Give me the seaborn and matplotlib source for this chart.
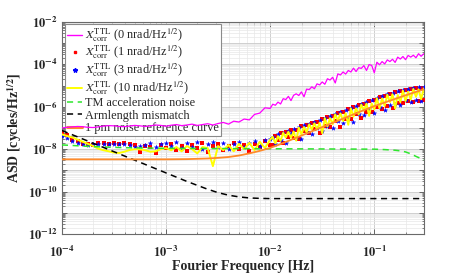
import numpy as np
import matplotlib
matplotlib.use('Agg')
import matplotlib.pyplot as plt
import seaborn as sns
from matplotlib.ticker import LogLocator, FuncFormatter, NullFormatter
from matplotlib.lines import Line2D

sns.set_style('ticks')
plt.rcParams['font.family'] = ['Liberation Serif', 'DejaVu Serif']
plt.rcParams['mathtext.fontset'] = 'stix'

# ---------------- data (log10 values) ----------------
freq_exp = [-4.00, -3.95, -3.90, -3.85, -3.80, -3.75, -3.70, -3.65, -3.60, -3.55,
            -3.50, -3.45, -3.40, -3.35, -3.30, -3.25, -3.20, -3.15, -3.10, -3.05,
            -3.00, -2.95, -2.90, -2.85, -2.80, -2.75, -2.70, -2.65, -2.60, -2.55,
            -2.50, -2.45, -2.40, -2.35, -2.30, -2.25, -2.20, -2.15, -2.10, -2.05,
            -2.00,
            -1.975, -1.950, -1.925, -1.900, -1.875, -1.850, -1.825, -1.800, -1.775, -1.750,
            -1.725, -1.700, -1.675, -1.650, -1.625, -1.600, -1.575, -1.550, -1.525, -1.500,
            -1.475, -1.450, -1.425, -1.400, -1.375, -1.350, -1.325, -1.300, -1.275, -1.250,
            -1.225, -1.200, -1.175, -1.150, -1.125, -1.100, -1.075, -1.050, -1.025, -1.000,
            -0.975, -0.950, -0.925, -0.900, -0.875, -0.850, -0.825, -0.800, -0.775, -0.750,
            -0.725, -0.700, -0.675, -0.650, -0.625, -0.600, -0.575, -0.550, -0.525]

ttl0_exp = [-7.00, -6.97, -6.95, -6.93, -6.94, -6.97, -6.98, -6.95, -6.91, -6.89,
            -6.90, -6.93, -6.94, -6.91, -6.88, -6.90, -6.93, -6.90, -6.86, -6.88,
            -6.92, -6.87, -6.84, -6.89, -6.86, -6.82, -6.88, -6.84, -6.80, -6.86,
            -6.79, -6.74, -6.82, -6.68, -6.72, -6.58, -6.62, -6.36, -6.30, -6.05,
            -6.08,
            -5.88, -5.93, -5.78, -5.87, -5.62, -5.66, -5.51, -5.71, -5.46, -5.39,
            -5.47, -5.30, -5.53, -5.17, -5.19, -5.06, -5.15, -4.92, -4.97, -4.83,
            -4.94, -4.68, -4.74, -4.61, -4.88, -4.45, -4.50, -4.36, -4.46, -4.29,
            -4.36, -4.18, -4.34, -4.16, -4.19, -4.06, -4.29, -4.01, -4.05, -4.40,
            -3.90, -4.02, -3.87, -3.98, -3.79, -3.87, -3.76, -3.91, -3.66, -3.75,
            -3.63, -3.78, -3.58, -3.66, -3.57, -3.69, -3.50, -3.62, -3.50]

ttl1_exp = [-7.25, -7.33, -7.55, -7.62, -7.78, -7.75, -7.80, -7.72, -7.70, -7.74,
            -7.70, -7.76, -7.72, -7.75, -7.80, -8.13, -7.85, -7.92, -8.18, -7.80,
            -7.95, -7.75, -8.05, -7.85, -8.10, -7.80, -7.95, -7.70, -8.15, -7.85,
            -7.75, -8.05, -7.85, -7.70, -8.00, -7.80, -8.10, -7.75, -7.90, -7.60,
            -7.80,
            -7.80, -7.37, -7.55, -7.25, -7.71, -7.21, -7.42, -7.09, -7.46, -7.08,
            -7.51, -6.92, -7.16, -6.87, -7.26, -6.77, -7.05, -6.72, -7.24, -6.60,
            -6.91, -6.48, -6.95, -6.44, -6.68, -6.30, -6.94, -6.25, -6.58, -6.11,
            -6.60, -6.03, -6.33, -5.92, -6.52, -5.85, -6.23, -5.73, -6.26, -5.68,
            -6.01, -5.54, -6.12, -5.47, -5.97, -5.41, -6.07, -5.31, -5.80, -5.26,
            -5.82, -5.19, -5.75, -5.16, -5.76, -5.12, -5.71, -5.12, -5.68]

ttl3_exp = [-7.40, -7.47, -7.62, -7.70, -7.74, -7.80, -7.76, -7.74, -7.75, -7.78,
            -7.74, -7.76, -7.75, -7.80, -7.90, -7.86, -7.80, -7.72, -7.90, -7.78,
            -7.70, -7.85, -7.68, -7.95, -7.72, -7.88, -7.65, -7.98, -7.75, -7.68,
            -7.90, -7.70, -8.00, -7.75, -7.65, -7.92, -7.70, -7.62, -7.85, -7.58,
            -7.50,
            -7.44, -7.77, -7.30, -7.57, -7.22, -7.71, -7.14, -7.23, -7.04, -7.45,
            -6.97, -7.54, -6.88, -7.20, -6.80, -7.27, -6.73, -6.99, -6.62, -7.15,
            -6.53, -6.91, -6.43, -7.02, -6.35, -6.69, -6.25, -6.75, -6.15, -6.57,
            -6.06, -6.70, -5.96, -6.34, -5.87, -6.37, -5.77, -6.10, -5.68, -6.28,
            -5.59, -6.01, -5.50, -6.15, -5.42, -5.90, -5.34, -5.88, -5.27, -5.90,
            -5.21, -5.69, -5.15, -5.78, -5.11, -5.68, -5.08, -5.73, -5.08]

ttl10_exp = [-7.30, -7.38, -7.45, -7.55, -7.65, -7.75, -7.85, -7.98, -8.05, -8.10,
             -8.16, -8.18, -8.12, -8.04, -8.00, -8.01, -8.05, -8.12, -8.10, -8.00,
             -7.95, -8.05, -7.90, -8.10, -7.85, -8.00, -8.20, -7.90, -7.95, -8.80,
             -7.85, -8.05, -7.80, -8.10, -7.75, -8.00, -7.70, -8.05, -7.65, -7.95,
             -7.55,
             -7.42, -7.73, -7.39, -7.61, -7.23, -7.45, -7.18, -7.46, -7.17, -7.60,
             -6.98, -7.30, -6.96, -7.21, -6.83, -7.07, -6.78, -7.07, -6.76, -7.25,
             -6.54, -6.93, -6.54, -6.82, -6.36, -6.65, -6.31, -6.67, -6.31, -6.85,
             -6.08, -6.47, -6.08, -6.36, -5.90, -6.18, -5.85, -6.43, -5.85, -6.12,
             -5.60, -6.07, -5.61, -5.96, -5.43, -5.78, -5.41, -6.08, -5.45, -5.78,
             -5.24, -5.73, -5.29, -5.66, -5.16, -5.53, -5.18, -5.64, -5.14]

tm_f_exp = [-4.0, -3.7, -3.4, -3.0, -2.0, -1.0, -0.9, -0.8, -0.75, -0.7, -0.65, -0.6, -0.55, -0.523]
tm_v_exp = [-7.80, -7.88, -7.93, -7.96, -7.98, -8.00, -8.02, -8.05, -8.08, -8.13, -8.22, -8.34, -8.45, -8.50]

arm_f_exp = [-4.0, -3.8, -3.6, -3.4, -3.2, -3.0, -2.8, -2.6, -2.5, -2.4, -2.3, -2.2, -2.1, -2.0, -1.5, -1.0, -0.523]
arm_v_exp = [-7.12, -7.52, -7.92, -8.32, -8.72, -9.12, -9.52, -9.89, -10.05, -10.17, -10.25, -10.30,
             -10.32, -10.33, -10.33, -10.33, -10.33]

ref_f_exp = [-4.0, -3.0, -2.8, -2.6, -2.5, -2.4, -2.3, -2.2, -2.1, -2.0, -1.9, -1.8, -1.7, -1.6,
             -1.5, -1.4, -1.3, -1.2, -1.1, -1.0, -0.9, -0.8, -0.7, -0.6, -0.523]
ref_v_exp = [-8.48, -8.48, -8.47, -8.44, -8.41, -8.37, -8.30, -8.20, -8.08, -7.94, -7.76, -7.56,
             -7.36, -7.16, -6.96, -6.76, -6.56, -6.36, -6.16, -5.97, -5.80, -5.63, -5.46, -5.30, -5.18]

labels = [r'$X_{\mathrm{corr}}^{\mathrm{TTL}}$ (0 nrad/Hz$^{1/2}$)',
          r'$X_{\mathrm{corr}}^{\mathrm{TTL}}$ (1 nrad/Hz$^{1/2}$)',
          r'$X_{\mathrm{corr}}^{\mathrm{TTL}}$ (3 nrad/Hz$^{1/2}$)',
          r'$X_{\mathrm{corr}}^{\mathrm{TTL}}$ (10 nrad/Hz$^{1/2}$)',
          'TM acceleration noise',
          'Armlength mismatch',
          '1 pm noise reference curve']

C_MAG, C_RED, C_BLUE, C_YEL = '#ff00ff', '#ff0000', '#0000ff', '#ffff00'
C_GRN, C_BLK, C_ORA = '#2ee62e', '#000000', '#ff8a2a'

# ---------------- plot ----------------
fig = plt.figure(figsize=(4.69, 2.74), dpi=100)
ax = fig.add_axes([0.132, 0.146, 0.772, 0.774])
ax.set_xscale('log')
ax.set_yscale('log')

f = 10 ** np.array(freq_exp)
p = lambda a: 10 ** np.array(a)

sns.lineplot(x=f, y=p(ttl0_exp), ax=ax, color=C_MAG, linewidth=0.9,
             estimator=None, sort=False, zorder=3.0)
sns.scatterplot(x=f, y=p(ttl1_exp), ax=ax, color=C_RED, marker='s', s=5,
                linewidth=0, zorder=3.1)
sns.scatterplot(x=f, y=p(ttl3_exp), ax=ax, color=C_BLUE, marker='*', s=10,
                linewidth=0.3, edgecolor=C_BLUE, zorder=3.2)
sns.lineplot(x=f, y=p(ttl10_exp), ax=ax, color=C_YEL, linewidth=1.4,
             estimator=None, sort=False, zorder=3.3)
sns.lineplot(x=p(tm_f_exp), y=p(tm_v_exp), ax=ax, color=C_GRN, linewidth=1.1,
             estimator=None, sort=False, zorder=3.4)
ax.lines[-1].set_dashes((4, 3))
sns.lineplot(x=p(arm_f_exp), y=p(arm_v_exp), ax=ax, color=C_BLK, linewidth=1.1,
             estimator=None, sort=False, zorder=3.5)
ax.lines[-1].set_dashes((4, 3))
sns.lineplot(x=p(ref_f_exp), y=p(ref_v_exp), ax=ax, color=C_ORA, linewidth=1.3,
             estimator=None, sort=False, zorder=3.6)

ax.set_xlim(1e-4, 0.3)
ax.set_ylim(1e-12, 1e-2)

def fmt_all(v, pos):
    e = int(round(np.log10(v)))
    return r'$\mathbf{10^{%d}}$' % e

def fmt_even(v, pos):
    e = int(round(np.log10(v)))
    return r'$\mathbf{10^{%d}}$' % e if e % 2 == 0 else ''

ax.xaxis.set_major_locator(LogLocator(base=10, numticks=10))
ax.xaxis.set_minor_locator(LogLocator(base=10, subs=np.arange(2, 10), numticks=40))
ax.xaxis.set_major_formatter(FuncFormatter(fmt_all))
ax.xaxis.set_minor_formatter(NullFormatter())
ax.yaxis.set_major_locator(LogLocator(base=10, numticks=15))
ax.yaxis.set_minor_locator(LogLocator(base=10, subs=np.arange(2, 10), numticks=40))
ax.yaxis.set_major_formatter(FuncFormatter(fmt_even))
ax.yaxis.set_minor_formatter(NullFormatter())

ax.set_axisbelow(True)
ax.grid(which='major', color='#c8c8c8', linewidth=0.6)
ax.grid(which='minor', color='#e8e8e8', linewidth=0.5)
ax.tick_params(which='both', direction='in', top=True, right=True, color='#555555',
               labelsize=9)
ax.tick_params(axis='x', which='both', pad=8)
ax.tick_params(axis='y', which='both', pad=3)
ax.tick_params(which='major', length=3.5, width=0.6)
ax.tick_params(which='minor', length=1.8, width=0.5)
for s in ax.spines.values():
    s.set_color('#6a6a6a')
    s.set_linewidth(0.8)

ax.set_xlabel('Fourier Frequency [Hz]', fontsize=10, fontweight='bold', labelpad=0)
ax.set_ylabel(r'ASD [cycles/Hz$^{\mathbf{1/2}}$]', fontsize=10, fontweight='bold', labelpad=3)

handles = [Line2D([], [], color=C_MAG, lw=1.0),
           Line2D([], [], color=C_RED, marker='s', ls='none', ms=2),
           Line2D([], [], color=C_BLUE, marker='*', ls='none', ms=3.2),
           Line2D([], [], color=C_YEL, lw=1.4),
           Line2D([], [], color=C_GRN, lw=1.1, dashes=(4, 3)),
           Line2D([], [], color=C_BLK, lw=1.1, dashes=(4, 3)),
           Line2D([], [], color=C_ORA, lw=2.2)]
leg = ax.legend(handles, labels, loc='upper left', bbox_to_anchor=(0.008, 0.99),
                borderaxespad=0, fontsize=8.8, frameon=True, fancybox=False,
                framealpha=1, edgecolor='#8a8a8a', handlelength=1.2,
                handletextpad=0.25, labelspacing=0.03, borderpad=0.2)
leg.get_frame().set_linewidth(0.8)
leg.set_zorder(2.5)

fig.savefig('out.png', dpi=100)
